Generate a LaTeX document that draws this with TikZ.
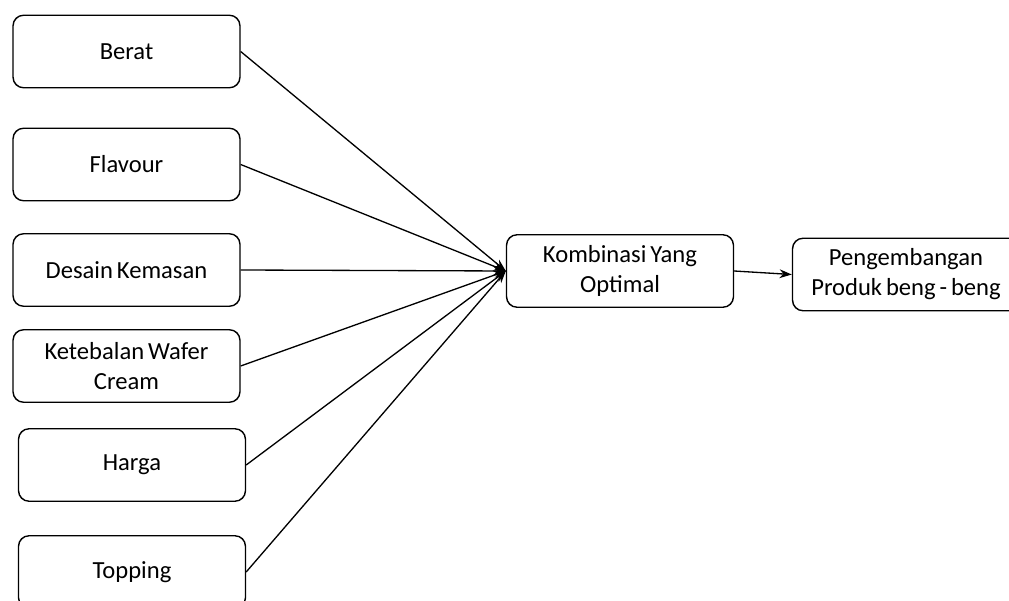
\documentclass[tikz,border=0pt]{standalone}
\usepackage{fontspec}
\setmainfont{Carlito}[WordSpace=0.7]
\usetikzlibrary{arrows.meta, positioning}
\tikzset{
  factor/.style={draw, line width=0.8pt, rounded corners=6pt, fill=white,
                 minimum width=4.54cm, minimum height=1.45cm, inner xsep=1pt,
                 text width=4.4cm, align=flush center, font=\fontsize{14}{17}\selectfont},
  link/.style={line width=0.75pt, -{Stealth[length=7pt, width=5pt]}}
}
\begin{document}
\begin{tikzpicture}[x=0.02cm, y=-0.02cm]
  \useasboundingbox (0,0) rectangle (1009,601);
  \clip (0,0) rectangle (1009,601);
  % faktor di kiri
  \foreach \n/\t/\x/\y in
    {berat/Berat/126.5/51.5, flavour/Flavour/126.5/164.5,
     desain/Desain Kemasan/126.5/270, wafer/Ketebalan Wafer\\Cream/126.5/366,
     harga/Harga/132/465, topping/Topping/132/572}
    \node[factor] (\n) at (\x, \y) {\t};
  \node[factor] (kombinasi) at (620, 271) {Kombinasi Yang\\Optimal};
  \node[factor] (produk) at (906, 274.5) {Pengembangan\\Produk beng - beng};
  \coordinate (join) at (kombinasi.west);
  \foreach \n in {berat, flavour, desain, wafer, harga, topping}
    \draw[link] (\n.east) -- (join);
  \draw[link] (kombinasi.east) -- (produk.west);
\end{tikzpicture}
\end{document}
